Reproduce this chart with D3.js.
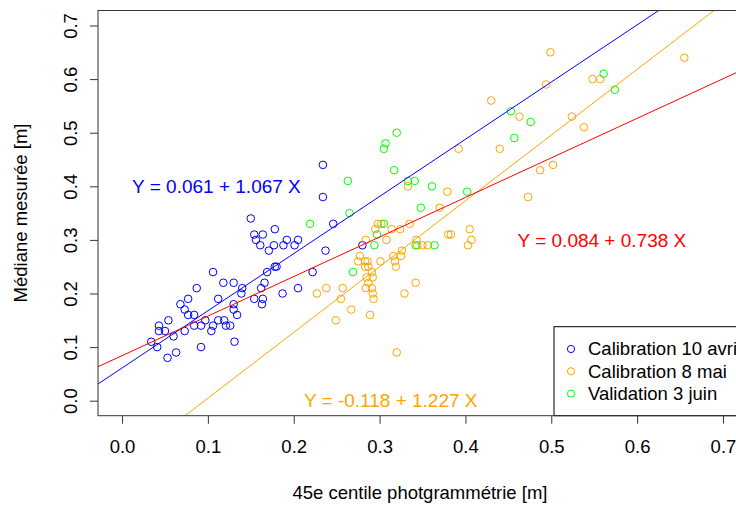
<!DOCTYPE html>
<html>
<head>
<meta charset="utf-8">
<script src="https://cdn.jsdelivr.net/npm/d3@7"></script>
<style>
  body { margin: 0; background: #fff; }
  text { font-family: "Liberation Sans", Arial, sans-serif; }
</style>
</head>
<body>
<svg width="736" height="506"></svg>
<script>
// data
const avrilX = [0.150,0.154,0.164,0.156,0.161,0.178,0.177,0.171,0.188,0.192,0.201,0.205,0.178,0.180,0.169,0.166,
  0.162,0.187,0.205,0.154,0.164,0.163,0.140,0.139,0.130,0.118,0.106,0.112,0.130,0.130,0.134,0.087,0.077,0.068,
  0.073,0.077,0.084,0.084,0.097,0.092,0.106,0.112,0.119,0.121,0.126,0.104,0.073,0.054,0.043,0.043,0.050,0.060,
  0.034,0.041,0.053,0.063,0.092,0.131,0.234,0.234,0.246,0.237,0.222,0.280];
const avrilY = [0.34,0.31,0.31,0.30,0.29,0.32,0.29,0.28,0.29,0.30,0.29,0.30,0.25,0.25,0.24,0.22,
  0.21,0.20,0.21,0.19,0.19,0.18,0.21,0.20,0.22,0.22,0.24,0.19,0.18,0.17,0.16,0.21,0.19,0.18,
  0.17,0.16,0.16,0.14,0.15,0.14,0.14,0.15,0.15,0.14,0.14,0.13,0.13,0.15,0.14,0.13,0.13,0.12,
  0.11,0.10,0.08,0.09,0.10,0.11,0.44,0.38,0.33,0.28,0.24,0.29];

const maiX = [0.499,0.494,0.430,0.463,0.524,0.538,0.548,0.557,0.655,0.392,0.440,0.487,0.502,0.473,0.333,0.379,
  0.370,0.335,0.324,0.314,0.298,0.302,0.295,0.308,0.343,0.344,0.350,0.356,0.380,0.383,0.405,0.407,0.403,0.326,
  0.316,0.325,0.318,0.319,0.301,0.284,0.277,0.275,0.283,0.286,0.283,0.287,0.291,0.285,0.292,0.287,0.284,0.291,
  0.292,0.293,0.289,0.257,0.238,0.227,0.255,0.267,0.249,0.320,0.342,0.329];
const maiY = [0.65,0.59,0.56,0.53,0.53,0.51,0.60,0.60,0.64,0.47,0.47,0.43,0.44,0.38,0.40,0.39,
  0.36,0.33,0.32,0.32,0.33,0.33,0.32,0.30,0.30,0.29,0.29,0.29,0.31,0.31,0.32,0.30,0.29,0.28,
  0.27,0.27,0.26,0.25,0.26,0.30,0.27,0.26,0.26,0.26,0.25,0.25,0.24,0.23,0.23,0.22,0.21,0.21,
  0.20,0.19,0.16,0.21,0.21,0.20,0.19,0.17,0.15,0.09,0.22,0.20];

const juinX = [0.561,0.574,0.453,0.476,0.457,0.320,0.307,0.305,0.317,0.333,0.341,0.361,0.402,0.348,0.263,0.265,
  0.219,0.305,0.297,0.294,0.269,0.342,0.364];
const juinY = [0.61,0.58,0.54,0.52,0.49,0.50,0.48,0.47,0.43,0.41,0.41,0.40,0.39,0.36,0.41,0.35,
  0.33,0.33,0.31,0.29,0.24,0.29,0.29];

const series = ['Calibration 10 avril', 'Calibration 8 mai', 'Validation 3 juin'];
const colors = ['blue', 'orange', '#00ff00'];

// regression lines: intercept, slope
const intercepts = [0.061, -0.118, 0.084];
const slopes = [1.067, 1.227, 0.738];
const lineColors = ['blue', 'orange', 'red'];
const eqLabels = ['Y = 0.061 + 1.067 X', 'Y = -0.118 + 1.227 X', 'Y = 0.084 + 0.738 X'];
const eqX = [0.11, 0.313, 0.559];
const eqY = [0.40, 0.0, 0.30];

const ticks = [0, 0.1, 0.2, 0.3, 0.4, 0.5, 0.6, 0.7];

const svg = d3.select('svg');
const mLeft = 98, mRight = 747, mTop = 10.5, mBottom = 415.7;

const x = d3.scaleLinear().domain([-0.028, 0.728]).range([mLeft, mRight]);
const y = d3.scaleLinear().domain([-0.028, 0.728]).range([mBottom, mTop]);

svg.append('clipPath').attr('id', 'clip')
  .append('rect')
    .attr('x', mLeft).attr('y', mTop)
    .attr('width', mRight - mLeft).attr('height', mBottom - mTop);

// axes
const xAxis = svg.append('g')
  .attr('transform', `translate(0,${mBottom})`)
  .call(d3.axisBottom(x).tickValues(ticks).tickFormat(d3.format('.1f')).tickSize(8).tickPadding(16));
const yAxis = svg.append('g')
  .attr('transform', `translate(${mLeft},0)`)
  .call(d3.axisLeft(y).tickValues(ticks).tickFormat(d3.format('.1f')).tickSize(8));

[xAxis, yAxis].forEach(g => {
  g.select('.domain').remove();
  g.selectAll('line').attr('stroke', '#333');
  g.selectAll('text').attr('font-size', 18.5).attr('fill', '#000')
    .attr('font-family', '"Liberation Sans", Arial, sans-serif');
});

yAxis.selectAll('text')
  .attr('x', null).attr('dy', '0.35em')
  .attr('text-anchor', 'middle')
  .attr('transform', 'translate(-27,0) rotate(-90)');

// titles
svg.append('text')
  .attr('x', 420).attr('y', 493).attr('dy', '0.35em')
  .attr('text-anchor', 'middle').attr('font-size', 18.5)
  .text('45e centile photgrammétrie [m]');
svg.append('text')
  .attr('transform', 'translate(21,213) rotate(-90)')
  .attr('dy', '0.35em')
  .attr('text-anchor', 'middle').attr('font-size', 18.5)
  .text('Médiane mesurée [m]');

// points
const plot = svg.append('g').attr('clip-path', 'url(#clip)');
const sets = [[avrilX, avrilY], [maiX, maiY], [juinX, juinY]];
sets.forEach(([xs, ys], i) => {
  plot.selectAll(null)
    .data(xs.map((v, j) => [v, ys[j]]))
    .enter()
    .append('circle')
      .attr('cx', d => x(d[0]))
      .attr('cy', d => y(d[1]))
      .attr('r', 3.8)
      .attr('fill', 'none')
      .attr('stroke', colors[i])
      .attr('stroke-width', 1);
});

// regression lines (abline)
const x0 = x.domain()[0], x1 = x.domain()[1];
plot.selectAll('line.fit')
  .data(intercepts)
  .enter()
  .append('line')
    .attr('x1', x(x0)).attr('x2', x(x1))
    .attr('y1', (a, i) => y(a + slopes[i] * x0))
    .attr('y2', (a, i) => y(a + slopes[i] * x1))
    .attr('stroke', (a, i) => lineColors[i])
    .attr('stroke-width', 1);

// equations
svg.selectAll('text.eq')
  .data(eqLabels)
  .enter()
  .append('text')
    .attr('x', (d, i) => x(eqX[i]))
    .attr('y', (d, i) => y(eqY[i]))
    .attr('dy', '0.35em')
    .attr('text-anchor', 'middle')
    .attr('font-size', 19)
    .attr('fill', (d, i) => lineColors[i])
    .text(d => d);

// legend (bottomright)
const legend = svg.append('g');
legend.append('rect')
  .attr('x', 554).attr('y', 326.7)
  .attr('width', mRight - 554).attr('height', mBottom - 326.7)
  .attr('fill', '#fff').attr('stroke', '#000');
series.forEach((s, i) => {
  const ly = 349 + i * 22.3;
  legend.append('circle')
    .attr('cx', 571).attr('cy', ly).attr('r', 3.6)
    .attr('fill', 'none').attr('stroke', colors[i]);
  legend.append('text')
    .attr('x', 588).attr('y', ly).attr('dy', '0.35em')
    .attr('font-size', 18.5)
    .text(s);
});

// box
svg.append('rect')
  .attr('x', mLeft).attr('y', mTop)
  .attr('width', mRight - mLeft).attr('height', mBottom - mTop)
  .attr('fill', 'none').attr('stroke', '#333');
</script>
</body>
</html>
